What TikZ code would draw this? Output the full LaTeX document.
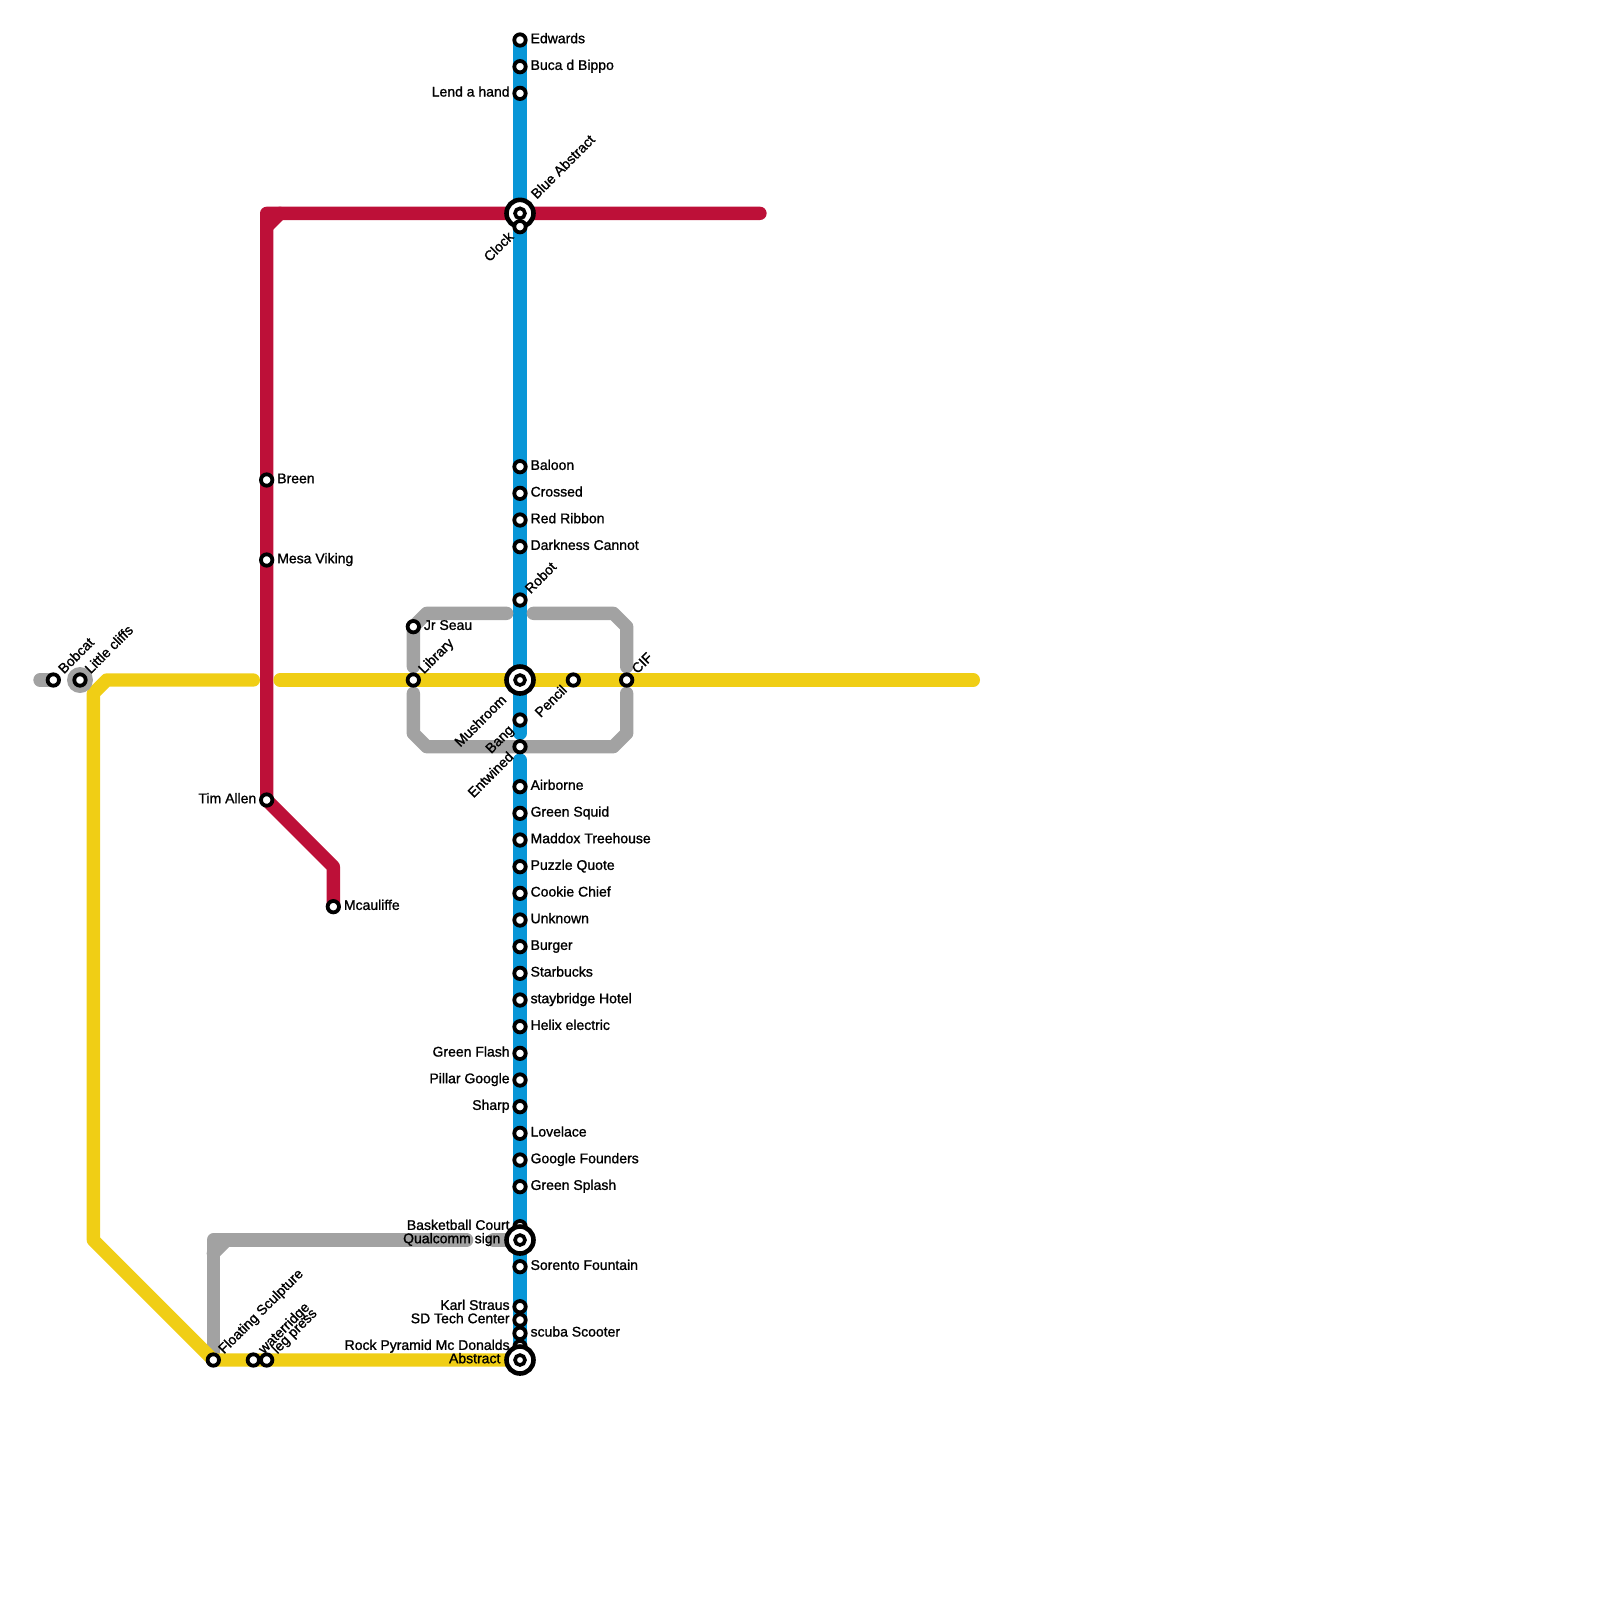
\documentclass[tikz,border=0pt]{standalone}
\usepackage{fontspec}
\setmainfont{Liberation Sans}[FakeBold=1.2]
\usetikzlibrary{backgrounds}
\definecolor{lineblue}{HTML}{0896D7}
\definecolor{linered}{HTML}{BD1038}
\definecolor{lineyellow}{HTML}{F0CE15}
\definecolor{linegray}{HTML}{A2A2A2}
\tikzset{
    route/.style={line width=6.667pt, line cap=round, line join=round},
    stn/.style={shape=circle, draw=black, fill=white, line width=1.9pt, minimum size=5.7pt, inner sep=0pt},
    hub/.style={shape=circle, draw=black, fill=white, line width=2.3pt, minimum size=13.5pt, inner sep=0pt},
    hubin/.style={shape=circle, draw=black, fill=white, line width=1.8pt, minimum size=5pt, inner sep=0pt},
    lbl/.style={font=\fontsize{7}{8}\selectfont, inner sep=0pt, text=black, text height=5pt, text depth=0pt},
    lblright/.style={lbl, anchor=west, xshift=5.1pt, yshift=0.9pt},
    lblleft/.style={lbl, anchor=east, xshift=-5pt, yshift=0.9pt},
    lblhub/.style={lbl, anchor=east, xshift=-9.6pt, yshift=0.9pt},
    lblup/.style={lbl, anchor=west, rotate=45, xshift=5.6pt, yshift=0.7pt},
    lbldown/.style={lbl, anchor=east, rotate=45, xshift=-5.7pt, yshift=0.6pt},
}
\begin{document}
\begin{tikzpicture}[x=6.6667pt, y=-6.6667pt]
    \useasboundingbox (0,0) rectangle (120,120);
    % bends and free line ends
    \coordinate (redend) at (57,16);
    \coordinate (redtop) at (20,16);
    \coordinate (redtopa) at (21,16);
    \coordinate (redtopb) at (20,17);
    \coordinate (redbend) at (25,65);
    \coordinate (blueupper) at (39,55);
    \coordinate (bluelower) at (39,57);
    \coordinate (grayshort) at (3,51);
    \coordinate (nwa) at (38,46);
    \coordinate (nwb) at (32,46);
    \coordinate (nwc) at (31,47);
    \coordinate (nwd) at (31,50);
    \coordinate (nea) at (40,46);
    \coordinate (neb) at (46,46);
    \coordinate (nec) at (47,47);
    \coordinate (ned) at (47,50);
    \coordinate (swa) at (31,52);
    \coordinate (swb) at (31,55);
    \coordinate (swc) at (32,56);
    \coordinate (sed) at (46,56);
    \coordinate (sec) at (47,55);
    \coordinate (seb) at (47,52);
    \coordinate (lowa) at (37,93);
    \coordinate (lowb) at (35,93);
    \coordinate (lowc) at (16,93);
    \coordinate (lowd) at (17,93);
    \coordinate (lowe) at (16,94);
    \coordinate (yela) at (19,51);
    \coordinate (yelb) at (8,51);
    \coordinate (yelc) at (7,52);
    \coordinate (yeld) at (7,93);
    \coordinate (yele) at (21,51);
    \coordinate (yelf) at (73,51);
    % blue line
    \node[name=edwards, stn] at (39,3) {};
    \node[name=edwardsl, lblright] at (edwards) {Edwards};
    \node[name=buca, stn] at (39,5) {};
    \node[name=bucal, lblright] at (buca) {Buca d Bippo};
    \node[name=lend, stn] at (39,7) {};
    \node[name=lendl, lblleft] at (lend) {Lend a hand};
    \node[name=blueabs, hub] at (39,16) {};
    \node[name=blueabsin, hubin] at (blueabs) {};
    \node[name=blueabsl, lbl, anchor=west, rotate=45, xshift=10.6pt, yshift=1.4pt] at (blueabs) {Blue Abstract};
    \node[name=clock, stn] at (39,17) {};
    \node[name=clockl, lbldown] at (clock) {Clock};
    \node[name=baloon, stn] at (39,35) {};
    \node[name=baloonl, lblright] at (baloon) {Baloon};
    \node[name=crossed, stn] at (39,37) {};
    \node[name=crossedl, lblright] at (crossed) {Crossed};
    \node[name=ribbon, stn] at (39,39) {};
    \node[name=ribbonl, lblright] at (ribbon) {Red Ribbon};
    \node[name=darkness, stn] at (39,41) {};
    \node[name=darknessl, lblright] at (darkness) {Darkness Cannot};
    \node[name=robot, stn] at (39,45) {};
    \node[name=robotl, lblup] at (robot) {Robot};
    \node[name=mushroom, hub] at (39,51) {};
    \node[name=mushroomin, hubin] at (mushroom) {};
    \node[name=mushrooml, lbl, anchor=east, rotate=45, xshift=-11.7pt, yshift=-0.3pt] at (mushroom) {Mushroom};
    \node[name=bang, stn] at (39,54) {};
    \node[name=bangl, lbldown] at (bang) {Bang};
    \node[name=entwined, stn] at (39,56) {};
    \node[name=entwinedl, lbldown] at (entwined) {Entwined};
    \node[name=airborne, stn] at (39,59) {};
    \node[name=airbornel, lblright] at (airborne) {Airborne};
    \node[name=squid, stn] at (39,61) {};
    \node[name=squidl, lblright] at (squid) {Green Squid};
    \node[name=maddox, stn] at (39,63) {};
    \node[name=maddoxl, lblright] at (maddox) {Maddox Treehouse};
    \node[name=puzzle, stn] at (39,65) {};
    \node[name=puzzlel, lblright] at (puzzle) {Puzzle Quote};
    \node[name=cookie, stn] at (39,67) {};
    \node[name=cookiel, lblright] at (cookie) {Cookie Chief};
    \node[name=unknown, stn] at (39,69) {};
    \node[name=unknownl, lblright] at (unknown) {Unknown};
    \node[name=burger, stn] at (39,71) {};
    \node[name=burgerl, lblright] at (burger) {Burger};
    \node[name=starbucks, stn] at (39,73) {};
    \node[name=starbucksl, lblright] at (starbucks) {Starbucks};
    \node[name=staybridge, stn] at (39,75) {};
    \node[name=staybridgel, lblright] at (staybridge) {staybridge Hotel};
    \node[name=helix, stn] at (39,77) {};
    \node[name=helixl, lblright] at (helix) {Helix electric};
    \node[name=flash, stn] at (39,79) {};
    \node[name=flashl, lblleft] at (flash) {Green Flash};
    \node[name=pillar, stn] at (39,81) {};
    \node[name=pillarl, lblleft] at (pillar) {Pillar Google};
    \node[name=sharp, stn] at (39,83) {};
    \node[name=sharpl, lblleft] at (sharp) {Sharp};
    \node[name=lovelace, stn] at (39,85) {};
    \node[name=lovelacel, lblright] at (lovelace) {Lovelace};
    \node[name=founders, stn] at (39,87) {};
    \node[name=foundersl, lblright] at (founders) {Google Founders};
    \node[name=splash, stn] at (39,89) {};
    \node[name=splashl, lblright] at (splash) {Green Splash};
    \node[name=basket, stn] at (39,92) {};
    \node[name=basketl, lblleft] at (basket) {Basketball Court};
    \node[name=qualcomm, hub] at (39,93) {};
    \node[name=qualcommin, hubin] at (qualcomm) {};
    \node[name=qualcomml, lblhub] at (qualcomm) {Qualcomm sign};
    \node[name=sorento, stn] at (39,95) {};
    \node[name=sorentol, lblright] at (sorento) {Sorento Fountain};
    \node[name=karl, stn] at (39,98) {};
    \node[name=karll, lblleft] at (karl) {Karl Straus};
    \node[name=tech, stn] at (39,99) {};
    \node[name=techl, lblleft] at (tech) {SD Tech Center};
    \node[name=scuba, stn] at (39,100) {};
    \node[name=scubal, lblright] at (scuba) {scuba Scooter};
    \node[name=rock, stn] at (39,101) {};
    \node[name=rockl, lblleft] at (rock) {Rock Pyramid Mc Donalds};
    \node[name=abstract, hub] at (39,102) {};
    \node[name=abstractin, hubin] at (abstract) {};
    \node[name=abstractl, lblhub] at (abstract) {Abstract};
    % red line
    \node[name=breen, stn] at (20,36) {};
    \node[name=breenl, lblright] at (breen) {Breen};
    \node[name=mesa, stn] at (20,42) {};
    \node[name=mesal, lblright] at (mesa) {Mesa Viking};
    \node[name=tim, stn] at (20,60) {};
    \node[name=timl, lblleft] at (tim) {Tim Allen};
    \node[name=mcauliffe, stn] at (25,68) {};
    \node[name=mcauliffel, lblright] at (mcauliffe) {Mcauliffe};
    % yellow and gray lines
    \node[name=bobcat, stn] at (4,51) {};
    \node[name=bobcatl, lblup] at (bobcat) {Bobcat};
    \node[name=cliffsring, shape=circle, fill=linegray, minimum size=13pt, inner sep=0pt] at (6,51) {};
    \node[name=cliffs, stn] at (6,51) {};
    \node[name=cliffsl, lblup] at (cliffs) {Little cliffs};
    \node[name=seau, stn] at (31,47) {};
    \node[name=seaul, lblright] at (seau) {Jr Seau};
    \node[name=library, stn] at (31,51) {};
    \node[name=libraryl, lblup] at (library) {Library};
    \node[name=pencil, stn] at (43,51) {};
    \node[name=pencill, lbldown] at (pencil) {Pencil};
    \node[name=cif, stn] at (47,51) {};
    \node[name=cifl, lblup] at (cif) {CIF};
    \node[name=sculpture, stn] at (16,102) {};
    \node[name=sculpturel, lblup] at (sculpture) {Floating Sculpture};
    \node[name=water, stn] at (19,102) {};
    \node[name=waterl, lblup] at (water) {waterridge};
    \node[name=press, stn] at (20,102) {};
    \node[name=pressl, lblup] at (press) {leg press};
    \begin{pgfonlayer}{background}
        \draw[route, linered] (redend) -- (redtop) -- (tim.center) -- (redbend) -- (mcauliffe.center);
        \draw[route, linered] (redtopa) -- (redtopb);
        \draw[route, lineblue] (edwards.center) -- (blueupper);
        \draw[route, lineblue] (bluelower) -- (abstract.center);
        \draw[route, linegray] (grayshort) -- (bobcat.center);
        \draw[route, linegray] (nwa) -- (nwb) -- (nwc) -- (nwd);
        \draw[route, linegray] (nea) -- (neb) -- (nec) -- (ned);
        \draw[route, linegray] (swa) -- (swb) -- (swc) -- (sed) -- (sec) -- (seb);
        \draw[route, linegray] (qualcomm.center) -- (lowa);
        \draw[route, linegray] (lowb) -- (lowc) -- (sculpture.center);
        \draw[route, linegray] (lowd) -- (lowe);
        \draw[route, lineyellow] (yela) -- (yelb) -- (yelc) -- (yeld) -- (sculpture.center) -- (abstract.center);
        \draw[route, lineyellow] (yele) -- (yelf);
    \end{pgfonlayer}
\end{tikzpicture}
\end{document}
